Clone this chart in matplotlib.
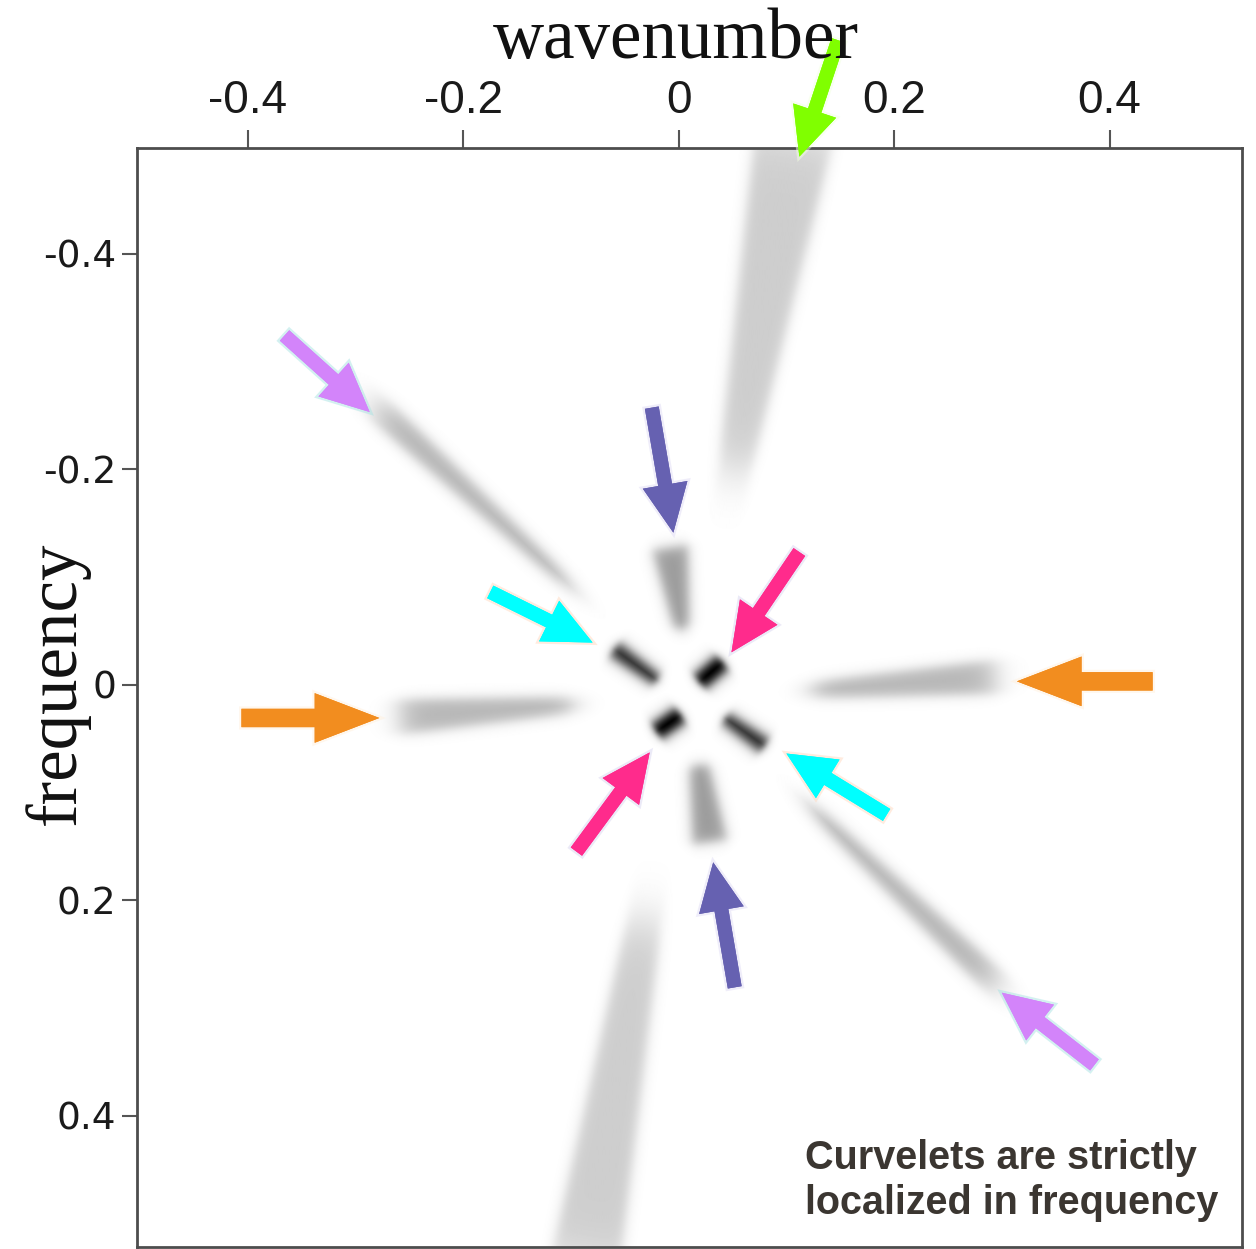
import numpy as np
import matplotlib
matplotlib.use("Agg")
import matplotlib.pyplot as plt
from matplotlib import font_manager
from matplotlib.patches import FancyArrow
import matplotlib.patheffects as pe

# curvelet wedges in the (wavenumber, frequency) plane
# each wedge: inner end, outer end, width at inner / outer end, darkness
wedge_inner = [(0.052, -0.200), (-0.032, 0.220),
               (-0.101, -0.092), (0.123, 0.114),
               (0.125, 0.005), (-0.099, 0.019),
               (0.003, -0.052), (0.019, 0.075),
               (-0.020, -0.004), (0.043, 0.031),
               (0.019, -0.002), (0.002, 0.028)]
wedge_outer = [(0.108, -0.515), (-0.087, 0.539),
               (-0.278, -0.255), (0.293, 0.276),
               (0.293, -0.007), (-0.258, 0.030),
               (-0.008, -0.127), (0.029, 0.146),
               (-0.060, -0.033), (0.080, 0.057),
               (0.041, -0.021), (-0.021, 0.044)]
width_inner = [0.030, 0.032, 0.011, 0.011, 0.015, 0.015, 0.014, 0.018, 0.011, 0.011, 0.016, 0.016]
width_outer = [0.074, 0.065, 0.024, 0.024, 0.031, 0.032, 0.033, 0.032, 0.015, 0.015, 0.016, 0.016]
darkness = [0.18, 0.18, 0.26, 0.26, 0.26, 0.26, 0.36, 0.36, 0.80, 0.80, 1.0, 1.0]

# arrows pointing at the wedges: tail -> tip
arrow_tail = [(0.148, -0.598), (-0.366, -0.324), (0.386, 0.353),
              (-0.025, -0.257), (0.052, 0.281),
              (-0.175, -0.086), (0.193, 0.121),
              (0.112, -0.123), (-0.095, 0.155),
              (0.440, -0.003), (-0.406, 0.031)]
arrow_tip = [(0.112, -0.490), (-0.287, -0.253), (0.300, 0.286),
             (-0.005, -0.141), (0.032, 0.165),
             (-0.080, -0.039), (0.100, 0.064),
             (0.049, -0.030), (-0.027, 0.063),
             (0.314, -0.003), (-0.278, 0.031)]
arrow_colors = ["#80ff00", "#d384fa", "#d384fa",
                "#6661b1", "#6661b1",
                "#00ffff", "#00ffff",
                "#ff2b8c", "#ff2b8c",
                "#f28d1f", "#f28d1f"]
arrow_halo = ["#f2ffe0", "#a9e3e3", "#a9e3e3",
              "#e0dcf5", "#e0dcf5",
              "#ffd9c0", "#ffd9c0",
              "#d9d6f0", "#d9d6f0",
              "#fff0dd", "#fff0dd"]

xticks = [-0.4, -0.2, 0, 0.2, 0.4]
yticks = [-0.4, -0.2, 0, 0.2, 0.4]
tick_text = ["-0.4", "-0.2", "0", "0.2", "0.4"]

xlim = (-0.503, 0.523)
ylim = (0.522, -0.498)

# build the amplitude image
nx, ny = 1100, 1100
xs = np.linspace(xlim[0], xlim[1], nx)
ys = np.linspace(ylim[1], ylim[0], ny)
X, Y = np.meshgrid(xs, ys)


def sigmoid(z):
    return 1.0 / (1.0 + np.exp(-np.clip(z, -50, 50)))


dark = np.zeros_like(X)
soft = 0.0032
for p0, p1, w0, w1, d in zip(wedge_inner, wedge_outer, width_inner, width_outer, darkness):
    p0 = np.array(p0)
    p1 = np.array(p1)
    v = p1 - p0
    L = np.hypot(*v)
    u = v / L
    n = np.array([-u[1], u[0]])
    dx = X - p0[0]
    dy = Y - p0[1]
    t = (dx * u[0] + dy * u[1]) / L
    s = dx * n[0] + dy * n[1]
    w = w0 + (w1 - w0) * np.clip(t, 0, 1)
    across = sigmoid((w / 2 - np.abs(s)) / soft)
    end_soft = max(0.045 * L, 0.002)
    along = sigmoid(t * L / end_soft) * sigmoid((1 - t) * L / end_soft)
    dark = np.maximum(dark, d * across * along)

img = 1.0 - np.clip(dark * 1.08, 0, 1)

fonts = {f.name for f in font_manager.fontManager.ttflist}
narrow = "Liberation Sans Narrow" if "Liberation Sans Narrow" in fonts else "Liberation Sans"

fig = plt.figure(figsize=(12.56, 12.49), dpi=100)
ax = fig.add_axes([137 / 1256, 1 - 1247 / 1249, (1242 - 137) / 1256, (1247 - 148) / 1249])
ax.imshow(img, cmap="gray", vmin=0, vmax=1, origin="upper",
          extent=(xlim[0], xlim[1], ylim[0], ylim[1]), interpolation="bilinear", aspect="auto")
ax.set_xlim(xlim)
ax.set_ylim(ylim)

ax.xaxis.tick_top()
ax.set_xticks(xticks)
ax.set_xticklabels(tick_text, fontfamily=narrow, fontsize=33, color="#1a1a1a")
ax.set_yticks(yticks)
ax.set_yticklabels(tick_text, fontfamily="DejaVu Sans", fontsize=27, color="#1a1a1a")
ax.tick_params(axis="x", direction="out", length=13, width=1.5, colors="#555555", pad=5,
               labelcolor="#1a1a1a")
ax.tick_params(axis="y", direction="out", length=11, width=1.5, colors="#555555", pad=4,
               labelcolor="#1a1a1a")
for sp in ax.spines.values():
    sp.set_color("#4d4d4d")
    sp.set_linewidth(2)

fig.text(676 / 1256, 1 - 58 / 1249, "wavenumber", fontfamily="Liberation Serif",
         fontsize=51, ha="center", va="baseline", color="#111111")
fig.text(57 / 1256, 1 - 683 / 1249, "frequency", fontfamily="Liberation Serif",
         fontsize=51, ha="center", va="center", rotation=90, color="#111111")

for i, (tail, tip) in enumerate(zip(arrow_tail, arrow_tip)):
    big = arrow_colors[i] == "#f28d1f"
    dx = tip[0] - tail[0]
    dy = tip[1] - tail[1]
    arr = FancyArrow(tail[0], tail[1], dx, dy,
                     width=0.017 if big else 0.013,
                     head_width=0.046 if big else 0.042,
                     head_length=0.060 if big else 0.045,
                     length_includes_head=True, color=arrow_colors[i],
                     linewidth=0, clip_on=False, zorder=5)
    arr.set_path_effects([pe.withStroke(linewidth=3.5, foreground=arrow_halo[i], alpha=0.5),
                          pe.Normal()])
    ax.add_patch(arr)

note_lines = ["Curvelets are strictly", "localized in frequency"]
for k, line in enumerate(note_lines):
    fig.text(805 / 1256, 1 - (1169 + 45 * k) / 1249, line, fontfamily="Liberation Sans",
             fontweight="bold", fontsize=28.5, color="#3b3631", ha="left", va="baseline")

fig.savefig("out.png", dpi=100, facecolor="white")
